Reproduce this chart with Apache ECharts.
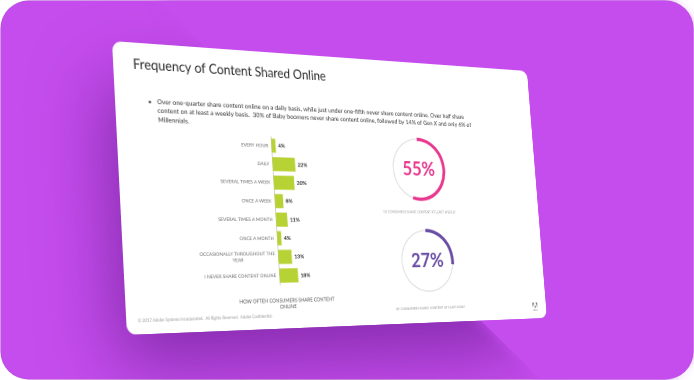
<!DOCTYPE html>
<html><head><meta charset="utf-8">
<script src="https://cdn.jsdelivr.net/npm/echarts@6/dist/echarts.min.js"></script>
<style>
html,body{margin:0;padding:0;background:#fff;width:694px;height:380px;overflow:hidden}
#bg{position:absolute;left:0;top:0;width:694px;height:380px}
#slide{position:absolute;left:0;top:0;width:524px;height:294px;transform-origin:0 0}
</style></head><body>
<div id="bg"></div><div id="slide"></div>
<script>
// ---------- data ----------
const categories = ['EVERY HOUR','DAILY','SEVERAL TIMES A WEEK','ONCE A WEEK','SEVERAL TIMES A MONTH','ONCE A MONTH','OCCASIONALLY THROUGHOUT THE YEAR','I NEVER SHARE CONTENT ONLINE'];
const shareValues = [4,22,20,8,11,4,13,18];
const donutValues = [55,27];
const donutColors = ['#e8388f','#6a4ea6'];
const donutCaptions = ['OF CONSUMERS SHARE CONTENT AT LEAST WEEKLY','OF CONSUMERS SHARE CONTENT AT LEAST DAILY'];
const titleText = 'Frequency of Content Shared Online';
const bulletLines = [
  'Over one-quarter share content online on a daily basis, while just under one-fifth never share content online. Over half share',
  'content on at least a weekly basis.  30% of Baby boomers never share content online, followed by 14% of Gen X and only 6% of',
  'Millennials.'
];
const axisTitle = 'HOW OFTEN CONSUMERS SHARE CONTENT\nONLINE';
const footerText = '\u00A9 2017 Adobe Systems Incorporated.  All Rights Reserved.  Adobe Confidential.';

// ---------- perspective of the photographed slide ----------
const SW = 524, SH = 294;
const QUAD = [[112,41],[527,71],[547,318],[127,335]];
function homography(q){
  const [x0,y0]=q[0],[x1,y1]=q[1],[x2,y2]=q[2],[x3,y3]=q[3];
  const dx1=x1-x2, dx2=x3-x2, dx3=x0-x1+x2-x3, dy1=y1-y2, dy2=y3-y2, dy3=y0-y1+y2-y3;
  const den=dx1*dy2-dx2*dy1;
  const g=(dx3*dy2-dx2*dy3)/den, h=(dx1*dy3-dx3*dy1)/den;
  return {a:x1-x0+g*x1, b:x3-x0+h*x3, c:x0, d:y1-y0+g*y1, e:y3-y0+h*y3, f:y0, g, h};
}
const Hm = homography(QUAD);
function toLocal(X,Y){
  const A11=Hm.a-Hm.g*X, A12=Hm.b-Hm.h*X, B1=X-Hm.c;
  const A21=Hm.d-Hm.g*Y, A22=Hm.e-Hm.h*Y, B2=Y-Hm.f;
  const det=A11*A22-A12*A21;
  return [(B1*A22-A12*B2)/det*SW, (A11*B2-B1*A21)/det*SH];
}
document.getElementById('slide').style.transform =
  `matrix3d(${Hm.a/SW},${Hm.d/SW},0,${Hm.g/SW},${Hm.b/SH},${Hm.e/SH},0,${Hm.h/SH},0,0,1,0,${Hm.c},${Hm.f},0,1)`;

// ---------- background ----------
const BASE = '#c54ded';
const cx0 = QUAD.reduce((s,p)=>s+p[0],0)/4, cy0 = QUAD.reduce((s,p)=>s+p[1],0)/4;
const inset = QUAD.map(p=>{const dx=cx0-p[0], dy=cy0-p[1], l=Math.hypot(dx,dy); return [p[0]+dx/l*9, p[1]+dy/l*9];});
const bg = echarts.init(document.getElementById('bg'), null, {renderer:'canvas'});
bg.setOption({
  animation:false,
  graphic:[
    {type:'rect', shape:{x:0.5,y:0.5,width:693,height:379,r:28}, style:{fill:BASE, stroke:'rgba(0,0,0,0.07)', lineWidth:1}},
    {type:'polygon', shape:{points:inset}, style:{fill:'#a844d4', shadowBlur:70, shadowOffsetX:-15, shadowOffsetY:35, shadowColor:'rgba(70,10,110,0.5)'}},
    {type:'polygon', shape:{points:[[158,1],[666,1],[693,28],[693,352],[666,379],[540,379]]}, style:{fill:BASE, shadowBlur:14, shadowColor:BASE}}
  ]
});

// ---------- slide ----------
const F = 'Lato, "Open Sans", sans-serif';
const gTop = toLocal(272,136.5), gBot = toLocal(279,285);
const p1 = toLocal(272.5,165), p2 = toLocal(295,165);
const perPct = (p2[0]-p1[0])/22;
const XMAX = 30;
const gridLeft = (gTop[0]+gBot[0])/2;

const labFont = 5.1;
const ctx = document.createElement('canvas').getContext('2d');
ctx.font = labFont + 'px Lato';
const occ = categories[6];
const occFirst = 'OCCASIONALLY THROUGHOUT THE';
const occW = ctx.measureText(occFirst).width;

const tPos = toLocal(133, 64.3);
const bPos = toLocal(148, 101.7);
const txPos = toLocal(157, 101.7);
const atPos = toLocal(288, 300);
const fPos = toLocal(138, 321);
const lgPos = toLocal(535, 306);
const dC = [toLocal(418.8,169.2), toLocal(427.5,260.8)];
const cC = [toLocal(420,212), toLocal(431,308)];
const R = 34;

const graphics = [
  {type:'rect', z:-100, silent:true, shape:{x:0,y:0,width:SW,height:SH,r:10}, style:{fill:'#fff'}},
  {type:'text', x:tPos[0], y:tPos[1], style:{text:titleText, font:'14px '+F, fill:'#2a2a2a', textVerticalAlign:'middle'}},
  {type:'text', x:bPos[0], y:bPos[1], style:{text:'\u2022', font:'7px '+F, fill:'#333', textVerticalAlign:'middle'}},
  {type:'text', x:txPos[0], y:txPos[1]-4.65, style:{text:bulletLines.join('\n'), font:'7px '+F, lineHeight:9.3, fill:'#333', textVerticalAlign:'top'}},
  {type:'text', x:atPos[0], y:atPos[1]-3, style:{text:axisTitle, font:'5.4px '+F, lineHeight:6.8, fill:'#555', textAlign:'center', textVerticalAlign:'top'}},
  {type:'text', x:fPos[0], y:fPos[1], style:{text:footerText, font:'4.3px '+F, fill:'#999', textVerticalAlign:'middle'}},
  {type:'polygon', shape:{points:[[lgPos[0]-3.5,lgPos[1]-4],[lgPos[0]-1,lgPos[1]-4],[lgPos[0]-3.5,lgPos[1]+2]]}, style:{fill:'#777'}},
  {type:'polygon', shape:{points:[[lgPos[0]+1,lgPos[1]-4],[lgPos[0]+3.5,lgPos[1]-4],[lgPos[0]+3.5,lgPos[1]+2]]}, style:{fill:'#777'}},
  {type:'polygon', shape:{points:[[lgPos[0],lgPos[1]-1.5],[lgPos[0]+1.8,lgPos[1]+2],[lgPos[0]-0.9,lgPos[1]+2]]}, style:{fill:'#777'}},
  {type:'text', x:lgPos[0], y:lgPos[1]+3.5, style:{text:'Adobe', font:'2.4px '+F, fill:'#888', textAlign:'center', textVerticalAlign:'top'}}
];
donutCaptions.forEach((t,i)=>{
  graphics.push({type:'text', x:cC[i][0], y:cC[i][1], style:{text:t, font:'3.9px '+F, fill:'#9a9a9a', textAlign:'center', textVerticalAlign:'middle'}});
});

const series = [{
  type:'bar', data:shareValues, barCategoryGap:'24%', silent:true,
  itemStyle:{color:'#b7d234'},
  label:{show:true, position:'right', distance:3, formatter:'{c}%', fontSize:6, fontWeight:'bold', color:'#222', fontFamily:F}
}];
donutValues.forEach((v,i)=>{
  series.push({type:'pie', center:dC[i], radius:[R-0.6,R+0.6], silent:true, label:{show:false}, labelLine:{show:false},
    itemStyle:{borderWidth:0}, data:[{value:100, itemStyle:{color:'#dedede'}}]});
  series.push({type:'pie', center:dC[i], radius:[R-1.9,R+1.9], startAngle:90, clockwise:true, silent:true,
    labelLine:{show:false}, itemStyle:{borderWidth:0},
    data:[
      {value:v, itemStyle:{color:donutColors[i]}, label:{show:true, position:'center', formatter:'{c}%', fontSize:22, fontWeight:'bold', fontFamily:F, color:donutColors[i]}},
      {value:100-v, itemStyle:{color:'rgba(0,0,0,0)'}, label:{show:false}}
    ]});
});

const slide = echarts.init(document.getElementById('slide'), null, {renderer:'canvas', devicePixelRatio:2});
slide.setOption({
  animation:false,
  backgroundColor:'transparent',
  grid:{left:gridLeft, top:gTop[1], width:perPct*XMAX, height:gBot[1]-gTop[1]},
  xAxis:{type:'value', min:0, max:XMAX, show:false},
  yAxis:{type:'category', inverse:true, data:categories,
    axisLine:{show:true, lineStyle:{color:'#cdcdcd', width:1}},
    axisTick:{show:false},
    axisLabel:{margin:4, fontSize:labFont, color:'#666', fontFamily:F,
      formatter:(val)=> val===occ ? '{a|'+occFirst+'}\n{b|YEAR}' : val,
      rich:{a:{fontSize:labFont, color:'#666', fontFamily:F, lineHeight:6.5}, b:{fontSize:labFont, color:'#666', fontFamily:F, width:occW, align:'center', lineHeight:6.5}}}
  },
  series:series,
  graphic:graphics
});
</script>
</body></html>
